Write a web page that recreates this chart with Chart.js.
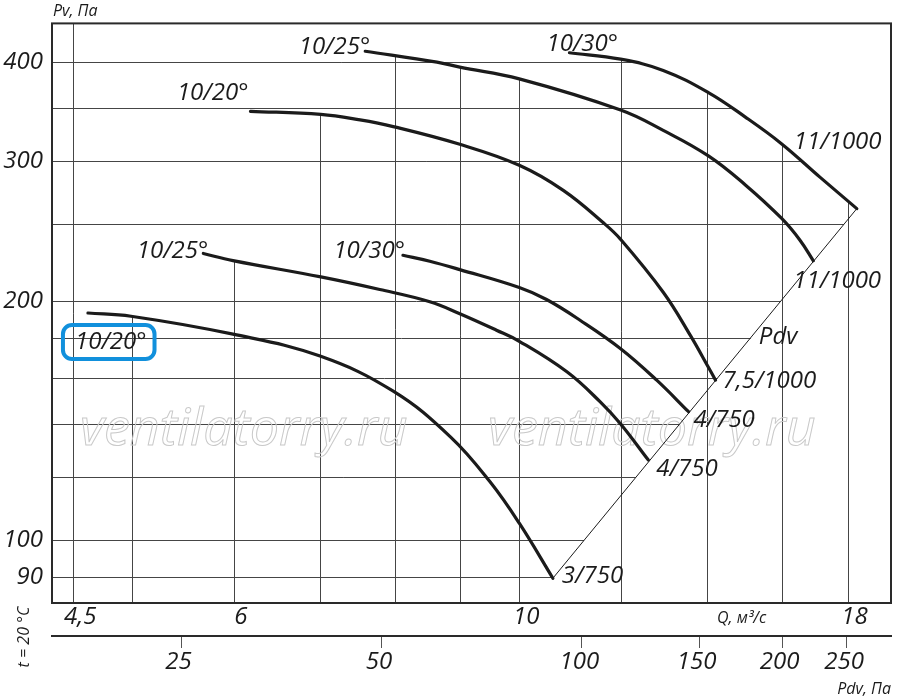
<!DOCTYPE html>
<html>
<head>
<meta charset="utf-8">
<script src="https://cdn.jsdelivr.net/npm/chart.js@4.4.1/dist/chart.umd.min.js"></script>
<style>
    html, body { margin: 0; padding: 0; background: #fff; }
    #wrap { width: 900px; height: 699px; }
</style>
</head>
<body>
<div id="wrap"><canvas id="grafico"></canvas></div>
<script>
(function (window, document) {
    'use strict';

    // curves: Q, m3/s and Pv, Pa
    var q1020a = [4.62, 4.99, 5.99, 7.0, 7.98, 8.84, 9.49, 10.0, 10.62];
    var pv1020a = [193.3, 191.5, 181.8, 170.6, 154.1, 135.0, 118.5, 105.1, 89.6];
    var q1025a = [5.68, 5.99, 7.01, 7.79, 8.52, 8.99, 9.6, 10.0, 10.89, 11.56, 11.99, 12.6];
    var pv1025a = [229.7, 225.0, 214.6, 206.9, 199.7, 192.9, 183.9, 178.1, 163.0, 149.4, 140.1, 126.2];
    var q1030a = [8.12, 8.52, 8.99, 10.0, 10.5, 11.15, 11.99, 12.79, 13.54];
    var pv1030a = [228.5, 224.6, 219.2, 208.1, 201.0, 189.3, 174.3, 159.1, 145.2];
    var q1020b = [6.18, 7.01, 7.52, 7.98, 8.99, 10.0, 10.82, 11.63, 11.99, 12.94, 13.58, 14.04, 14.21];
    var pv1020b = [346.8, 343.8, 338.3, 331.8, 315.2, 296.6, 275.8, 250.9, 239.3, 205.3, 181.3, 164.8, 159.1];
    var q1025b = [7.59, 8.63, 8.99, 10.0, 11.99, 12.94, 14.03, 14.99, 15.99, 16.53, 16.93];
    var pv1025b = [412.8, 400.0, 394.2, 381.0, 348.1, 328.2, 304.8, 280.2, 254.4, 238.7, 224.9];
    var q1030b = [10.94, 11.99, 12.94, 14.03, 14.99, 15.99, 17.13, 18.3];
    var pv1030b = [411.0, 403.4, 390.5, 366.2, 341.1, 315.8, 286.6, 261.6];

    var startLabels = ['10/20°', '10/25°', '10/30°', '10/20°', '10/25°', '10/30°'];
    var endLabels = ['3/750', '4/750', '4/750', '7,5/1000', '11/1000', '11/1000'];

    // axes
    var qGrid = [4.5, 5, 6, 7, 8, 9, 10, 12, 14, 16, 18];
    var qLabels = [4.5, 6, 10, 18];
    var pvGrid = [90, 100, 120, 140, 160, 180, 200, 250, 300, 350, 400];
    var pvLabels = [90, 100, 200, 300, 400];
    var pdvTicks = [25, 50, 100, 150, 200, 250];
    var qMin = 4.332, qMax = 19.455;
    var pvMin = 83.4, pvMax = 447.5;
    var pdvMin = 16.0, pdvMax = 291.4;

    var curves = [
        { q: q1020a, pv: pv1020a },
        { q: q1025a, pv: pv1025a },
        { q: q1030a, pv: pv1030a },
        { q: q1020b, pv: pv1020b },
        { q: q1025b, pv: pv1025b },
        { q: q1030b, pv: pv1030b }
    ];

    var INK = '#1b1b1b';
    var FONT = "'Open Sans', 'DejaVu Sans', sans-serif";

    // text placement next to curve start / end points (pixels)
    var startPlace = [[-13, 36, 'left'], [5, 5, 'right'], [2, 3, 'right'], [-2, -11, 'right'], [5, 3, 'right'], [-23, -2, 'left']];
    var endPlace = [[9, 5], [8, 16], [5, 15], [7, 8], [-20, 27], [-63, -60]];

    function pontos(c) {
        return c.q.map(function (q, i) { return { x: q, y: c.pv[i] }; });
    }

    var last = function (a) { return a[a.length - 1]; };
    var diagonal = [
        { x: last(q1020a), y: last(pv1020a) },
        { x: last(q1030b), y: last(pv1030b) }
    ];

    function fmt(v) {
        return String(v).replace('.', ',');
    }

    // log-log interpolation of pv at q, null outside the curve
    function pvAt(c, q) {
        if (q < c.q[0] || q > last(c.q)) { return null; }
        for (var i = 1; i < c.q.length; i++) {
            if (q <= c.q[i]) {
                var t = Math.log(q / c.q[i - 1]) / Math.log(c.q[i] / c.q[i - 1]);
                return c.pv[i - 1] * Math.pow(c.pv[i] / c.pv[i - 1], t);
            }
        }
        return null;
    }

    // q where the curve crosses pv, null if it does not
    function qAt(c, pv) {
        for (var i = 1; i < c.q.length; i++) {
            var a = c.pv[i - 1], b = c.pv[i];
            if ((pv - a) * (pv - b) <= 0 && a !== b) {
                var t = Math.log(pv / a) / Math.log(b / a);
                return c.q[i - 1] * Math.pow(c.q[i] / c.q[i - 1], t);
            }
        }
        return null;
    }

    var gradePlugin = {
        id: 'grade',
        beforeDatasetsDraw: function (chart) {
            var ctx = chart.ctx, a = chart.chartArea;
            var sx = chart.scales.x, sy = chart.scales.y;
            var diag = { q: diagonal.map(function (p) { return p.x; }), pv: diagonal.map(function (p) { return p.y; }) };
            ctx.save();
            ctx.strokeStyle = '#454545';
            ctx.lineWidth = 1;
            qGrid.forEach(function (q) {
                var top = null;
                curves.forEach(function (c) {
                    var p = pvAt(c, q);
                    if (p !== null && (top === null || p > top)) { top = p; }
                });
                var x = Math.round(sx.getPixelForValue(q)) + 0.5;
                ctx.beginPath();
                ctx.moveTo(x, a.bottom);
                ctx.lineTo(x, top === null ? a.top : sy.getPixelForValue(top));
                ctx.stroke();
            });
            pvGrid.forEach(function (pv) {
                var right = null;
                curves.concat([diag]).forEach(function (c) {
                    var q = qAt(c, pv);
                    if (q !== null && (right === null || q > right)) { right = q; }
                });
                var y = Math.round(sy.getPixelForValue(pv)) + 0.5;
                ctx.beginPath();
                ctx.moveTo(a.left, y);
                ctx.lineTo(right === null ? a.right : sx.getPixelForValue(right), y);
                ctx.stroke();
            });

            // watermark
            ctx.font = 'italic 52px ' + FONT;
            ctx.strokeStyle = '#c9c9c9';
            ctx.lineWidth = 1;
            ctx.textBaseline = 'alphabetic';
            ctx.strokeText('ventilatorry.ru', a.left + 28, a.top + 422);
            ctx.strokeText('ventilatorry.ru', a.left + 436, a.top + 422);
            ctx.restore();
        },
        afterDatasetsDraw: function (chart) {
            var ctx = chart.ctx, a = chart.chartArea;
            var sx = chart.scales.x, sy = chart.scales.y;
            ctx.save();
            ctx.strokeStyle = '#2a2a2a';
            ctx.lineWidth = 2;
            ctx.strokeRect(a.left, a.top, a.right - a.left, a.bottom - a.top);

            ctx.fillStyle = INK;
            ctx.textBaseline = 'alphabetic';
            ctx.font = 'italic 24px ' + FONT;
            curves.forEach(function (c, i) {
                var x0 = sx.getPixelForValue(c.q[0]), y0 = sy.getPixelForValue(c.pv[0]);
                var sp = startPlace[i];
                ctx.textAlign = sp[2];
                ctx.fillText(startLabels[i], x0 + sp[0], y0 + sp[1]);
                if (i === 0) {
                    var w = ctx.measureText(startLabels[i]).width;
                    ctx.save();
                    ctx.strokeStyle = '#1190dc';
                    ctx.lineWidth = 4;
                    ctx.beginPath();
                    ctx.roundRect(x0 + sp[0] - 12, y0 + sp[1] - 24, w + 20, 34, 9);
                    ctx.stroke();
                    ctx.restore();
                }
                var x1 = sx.getPixelForValue(last(c.q)), y1 = sy.getPixelForValue(last(c.pv));
                ctx.textAlign = 'left';
                ctx.fillText(endLabels[i], x1 + endPlace[i][0], y1 + endPlace[i][1]);
            });
            var dx = sx.getPixelForValue(diagonal[1].x), dy = sy.getPixelForValue(diagonal[1].y);
            ctx.fillText('Pdv', dx - 98, dy + 135);

            ctx.font = 'italic 16px ' + FONT;
            ctx.fillText('Pv, Па', a.left + 1, a.top - 7);
            ctx.fillText('Q, м³/с', a.left + 665, a.bottom + 20);
            ctx.translate(24, a.bottom + 34);
            ctx.rotate(-Math.PI / 2);
            ctx.textAlign = 'center';
            ctx.textBaseline = 'middle';
            ctx.fillText('t = 20 °C', 0, 0);
            ctx.restore();
        }
    };

    var tickFont = { family: FONT, size: 24, style: 'italic' };

    var datasets = curves.map(function (c) {
        return {
            data: pontos(c),
            borderColor: INK,
            borderWidth: 3.2,
            pointRadius: 0,
            tension: 0.4,
            borderCapStyle: 'round',
            fill: false
        };
    });
    datasets.push({
        data: diagonal,
        borderColor: INK,
        borderWidth: 1,
        pointRadius: 0,
        fill: false
    });

    new Chart(document.getElementById('grafico'), {
        type: 'line',
        data: { datasets: datasets },
        options: {
            responsive: true,
            maintainAspectRatio: false,
            animation: false,
            layout: { padding: { top: 23, right: 9, left: 0, bottom: 0 } },
            plugins: {
                legend: { display: false },
                tooltip: { enabled: false }
            },
            scales: {
                x: {
                    type: 'logarithmic',
                    position: 'bottom',
                    min: qMin,
                    max: qMax,
                    afterBuildTicks: function (s) { s.ticks = qGrid.map(function (v) { return { value: v }; }); },
                    afterFit: function (s) { s.height = 33; },
                    grid: { display: false, drawTicks: false },
                    border: { display: false },
                    ticks: {
                        autoSkip: false,
                        maxRotation: 0,
                        padding: 0,
                        labelOffset: 7,
                        color: INK,
                        font: tickFont,
                        callback: function (v) { return qLabels.indexOf(v) >= 0 ? fmt(v) : ''; }
                    }
                },
                x2: {
                    type: 'logarithmic',
                    position: 'bottom',
                    min: pdvMin,
                    max: pdvMax,
                    afterBuildTicks: function (s) { s.ticks = pdvTicks.map(function (v) { return { value: v }; }); },
                    afterFit: function (s) { s.height = 63; },
                    grid: { display: true, drawOnChartArea: false, drawTicks: true, tickLength: 12, color: '#555', lineWidth: 1 },
                    border: { display: true, color: '#2a2a2a', width: 2 },
                    ticks: {
                        autoSkip: false,
                        maxRotation: 0,
                        padding: 0,
                        labelOffset: -2.5,
                        color: INK,
                        font: tickFont,
                        callback: function (v) { return String(v); }
                    },
                    title: {
                        display: true,
                        text: 'Pdv, Па',
                        align: 'end',
                        color: INK,
                        font: { family: FONT, size: 16, style: 'italic' },
                        padding: { top: 0, bottom: 0 }
                    }
                },
                y: {
                    type: 'logarithmic',
                    min: pvMin,
                    max: pvMax,
                    afterBuildTicks: function (s) { s.ticks = pvGrid.map(function (v) { return { value: v }; }); },
                    afterFit: function (s) { s.width = 52; },
                    grid: { display: false, drawTicks: false },
                    border: { display: false },
                    ticks: {
                        autoSkip: false,
                        padding: 9,
                        color: INK,
                        font: tickFont,
                        callback: function (v) { return pvLabels.indexOf(v) >= 0 ? fmt(v) : ''; }
                    }
                }
            }
        },
        plugins: [gradePlugin]
    });
})(window, document);
</script>
</body>
</html>
